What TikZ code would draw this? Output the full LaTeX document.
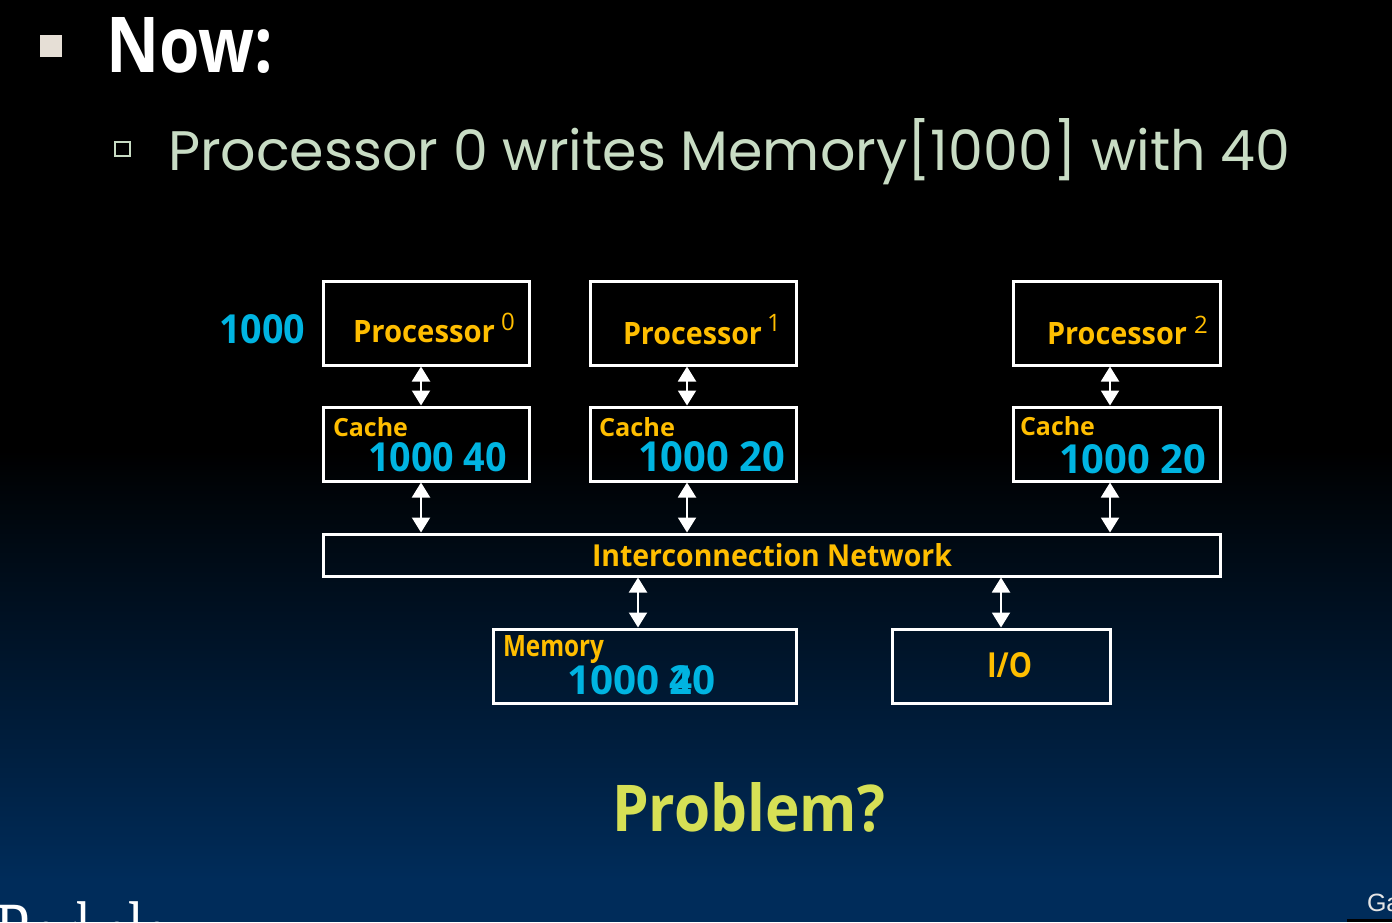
\documentclass[tikz,border=0pt]{standalone}
\usepackage{fontspec}
\usepackage{graphicx}
\setmainfont{Open Sans}
\newfontfamily\subfont{Poppins}
\newfontfamily\logofont{Liberation Serif}
\newfontfamily\footfont{Liberation Sans}
\usetikzlibrary{arrows.meta,calc}

\definecolor{bgblue}{RGB}{0,44,90}
\definecolor{bgmid}{RGB}{2,13,28}
\definecolor{labelorange}{RGB}{255,190,0}
\definecolor{valuecyan}{RGB}{0,180,225}
\definecolor{subgreen}{RGB}{200,220,196}
\definecolor{bulletbeige}{RGB}{230,223,214}
\definecolor{problemyellow}{RGB}{214,224,85}

% scale a piece of text to an exact width and height (in px = pt)
\newcommand\fitto[3]{\resizebox{#1pt}{#2pt}{#3}}

\tikzset{
  unit/.style={draw=white, line width=3pt, inner sep=0pt, outer sep=1.5pt},
  txt/.style={anchor=base west, inner sep=0pt, outer sep=0pt},
  link/.style={draw=white, line width=2pt,
    {Triangle[width=18pt,length=15pt]}-{Triangle[width=18pt,length=15pt]}},
  lab/.style={txt, text=labelorange, font=\bfseries},
  val/.style={txt, text=valuecyan, font=\bfseries},
}

\begin{document}
\begin{tikzpicture}[x=1pt,y=-1pt]
\useasboundingbox (0,0) rectangle (1392,922);
\begin{scope}
\clip (0,0) rectangle (1392,922);

% background: black fading into dark blue
\fill[black] (0,0) rectangle (1392,452);
\shade[top color=black, middle color=bgmid, bottom color=bgblue]
  (0,450) rectangle (1392,880);
\fill[bgblue] (0,879) rectangle (1392,922);

% bullets and heading lines
\fill[bulletbeige] (40,35) rectangle (62,57);
\node[txt, text=white] (now) at (106,72) {\fitto{167}{55}{\bfseries Now:}};
\draw[subgreen, line width=2pt] (115,142) rectangle (130,156);
\node[txt, text=subgreen] (sub) at (168,170)
  {\fitto{1122}{52}{\subfont Processor 0 writes Memory[1000] with 40}};

% processors
\node[unit, minimum width=206pt, minimum height=84pt] (p0) at (426,323) {};
\node[unit, minimum width=206pt, minimum height=84pt] (p1) at (693,323) {};
\node[unit, minimum width=207pt, minimum height=84pt] (p2) at (1116.5,323) {};

% caches
\node[unit, minimum width=206pt, minimum height=74pt] (c0) at (426,444) {};
\node[unit, minimum width=206pt, minimum height=74pt] (c1) at (693,444) {};
\node[unit, minimum width=207pt, minimum height=74pt] (c2) at (1116.5,444) {};

% network, memory and I/O
\node[unit, minimum width=897pt, minimum height=42pt] (net) at (771.5,555) {};
\node[unit, minimum width=303pt, minimum height=74pt] (mem) at (644.5,666) {};
\node[unit, minimum width=218pt, minimum height=74pt] (io) at (1001,666) {};

% labels inside the units
\node[val] (addr) at (219,343) {\fitto{86}{29}{1000}};
\node[lab] (p0t) at (353,342) {\fitto{142}{22}{Processor}};
\node[txt, text=labelorange, font=\fontsize{24}{24}\selectfont] (p0n) at (501,330) {0};
\node[lab] (p1t) at (623,344) {\fitto{139}{22}{Processor}};
\node[txt, text=labelorange, font=\fontsize{24}{24}\selectfont] (p1n) at (767,331) {1};
\node[lab] (p2t) at (1047,344) {\fitto{140}{22}{Processor}};
\node[txt, text=labelorange, font=\fontsize{24}{24}\selectfont] (p2n) at (1194,333) {2};

\node[lab] (c0t) at (333,436) {\fitto{75}{19}{Cache}};
\node[val] (c0v) at (368,471) {\fitto{139}{29}{1000 40}};
\node[lab] (c1t) at (599,436) {\fitto{76}{19}{Cache}};
\node[val] (c1v) at (638,471) {\fitto{147}{30}{1000 20}};
\node[lab] (c2t) at (1020,435) {\fitto{75}{19}{Cache}};
\node[val] (c2v) at (1059,473) {\fitto{147}{29}{1000 20}};

\node[lab] (nett) at (592,566) {\fitto{360}{23}{Interconnection Network}};
\node[lab] (memt) at (503,656) {\fitto{101}{21}{Memory}};
\node[val] (memv) at (567,694) {\fitto{149}{29}{1000 \rlap{4}20}};
\node[lab] (iot) at (987,677) {\fitto{45}{25}{I/O}};

% connectors
\draw[link] ($(p0.south)+(-5,0)$) -- ($(c0.north)+(-5,0)$);
\draw[link] ($(p1.south)+(-6,0)$) -- ($(c1.north)+(-6,0)$);
\draw[link] ($(p2.south)+(-6.5,0)$) -- ($(c2.north)+(-6.5,0)$);
\coordinate (c0b) at ($(c0.south)+(-5,0)$);
\coordinate (c1b) at ($(c1.south)+(-6,0)$);
\coordinate (c2b) at ($(c2.south)+(-6.5,0)$);
\draw[link] (c0b) -- (c0b |- net.north);
\draw[link] (c1b) -- (c1b |- net.north);
\draw[link] (c2b) -- (c2b |- net.north);
\coordinate (memtop) at ($(mem.north)+(-6.5,0)$);
\draw[link] (net.south -| memtop) -- (memtop);
\draw[link] (net.south -| io.north) -- (io.north);

% closing question
\node[txt, text=problemyellow] (prob) at (612,831) {\fitto{273}{49}{\bfseries Problem?}};

% footer lettering along the lower edge
\node[txt, text=white, font=\logofont\fontsize{92}{92}\selectfont] (logo) at (-3,965)
  {\scalebox{0.6}[1]{Berkeley}};
\node[txt, text=white!90!black, font=\footfont\fontsize{25}{25}\selectfont] (foot) at (1367,911) {Ga};
\fill[black] (1347,919) rectangle (1392,922);
\end{scope}
\end{tikzpicture}
\end{document}
